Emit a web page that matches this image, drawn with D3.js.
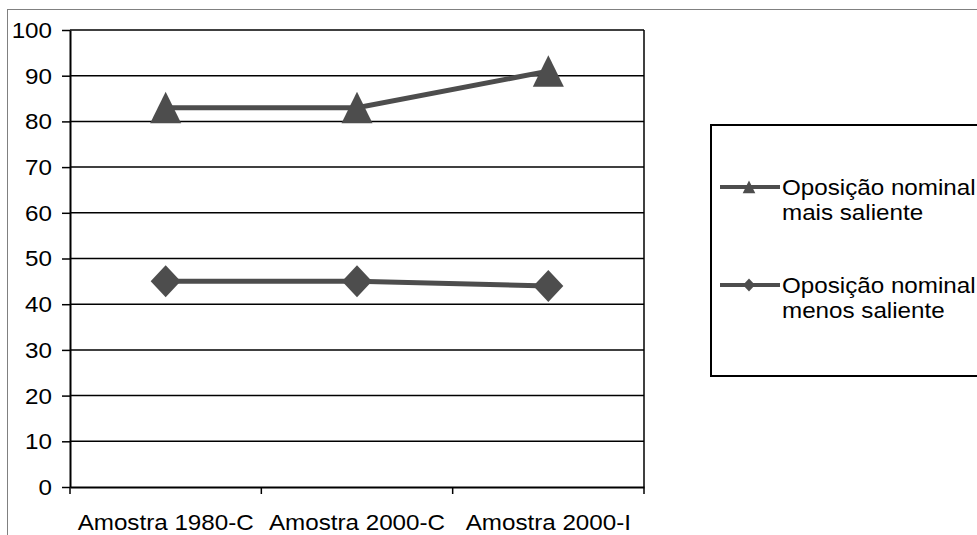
<!DOCTYPE html>
<html><head><meta charset="utf-8">
<script src="https://cdn.jsdelivr.net/npm/d3@7"></script>
<style>
body{margin:0;background:#fff}
svg{display:block}
text{font-family:"Liberation Sans",Arial,sans-serif;fill:#000}
</style></head>
<body><svg id="c" width="977" height="535"></svg>
<script>
const categories = ["Amostra 1980-C", "Amostra 2000-C", "Amostra 2000-I"];
const maisSaliente = [83, 83, 91];
const menosSaliente = [45, 45, 44];
const seriesLabels = [["Oposição nominal", "mais saliente"], ["Oposição nominal", "menos saliente"]];
const yTicks = [0, 10, 20, 30, 40, 50, 60, 70, 80, 90, 100];

const svg = d3.select("#c");
const FS = 22, SX = 1.1;
const col = "#4d4d4d";
const L = 70, R = 644, T = 30, B = 487;

const x = d3.scaleBand().domain(categories).range([L, R]).padding(0);
const y = d3.scaleLinear().domain([0, 100]).range([B, T]);
const cx = c => x(c) + x.bandwidth() / 2;

// outer frame
svg.append("rect").attr("x", 7.5).attr("y", 9.5).attr("width", 975).attr("height", 540)
  .attr("fill", "none").attr("stroke", "#808080").attr("stroke-width", 1);

// gridlines
svg.append("g").selectAll("line").data(yTicks.filter(d => d > 0)).join("line")
  .attr("x1", L).attr("x2", R).attr("y1", d => y(d)).attr("y2", d => y(d))
  .attr("stroke", "#000").attr("stroke-width", 1.5);
// right border of plot area
svg.append("line").attr("x1", R).attr("x2", R).attr("y1", T).attr("y2", B)
  .attr("stroke", "#000").attr("stroke-width", 1.5);

// left axis
const ya = svg.append("g").attr("transform", `translate(${L},0)`)
  .call(d3.axisLeft(y).tickValues(yTicks).tickSize(8).tickSizeOuter(0));
ya.select(".domain").attr("stroke", "#000").attr("stroke-width", 2);
ya.selectAll(".tick line").attr("stroke", "#000").attr("stroke-width", 1.5);
ya.selectAll(".tick text").attr("font-size", FS).attr("font-family", "Liberation Sans, Arial, sans-serif")
  .attr("x", -18 / SX).attr("dy", "0.34em").attr("transform", `scale(${SX},1)`).attr("fill", "#000");

// bottom axis
const xa = svg.append("g").attr("transform", `translate(0,${B})`)
  .call(d3.axisBottom(x).tickSize(0).tickSizeOuter(0));
xa.select(".domain").attr("stroke", "#000").attr("stroke-width", 2);
xa.selectAll(".tick text").attr("font-size", FS).attr("font-family", "Liberation Sans, Arial, sans-serif")
  .attr("y", 43).attr("dy", 0).attr("transform", `scale(${SX},1)`).attr("fill", "#000");
const bounds = categories.map(c => x(c)).concat([R]);
xa.selectAll("line.bt").data(bounds).join("line").attr("class", "bt")
  .attr("x1", d => d).attr("x2", d => d).attr("y1", 0).attr("y2", 7)
  .attr("stroke", "#000").attr("stroke-width", 1.5);

// markers
const tri = s => `M0,${-s}L${s * 0.97},${s * 0.975}L${-s * 0.97},${s * 0.975}Z`;
const dia = (w, h) => `M0,${-h}L${w},0L0,${h}L${-w},0Z`;

const line = d3.line().x(d => cx(d.c)).y(d => y(d.v));
const s1 = categories.map((c, i) => ({c, v: maisSaliente[i]}));
const s2 = categories.map((c, i) => ({c, v: menosSaliente[i]}));

svg.append("path").datum(s1).attr("d", line).attr("fill", "none").attr("stroke", col).attr("stroke-width", 5);
svg.append("path").datum(s2).attr("d", line).attr("fill", "none").attr("stroke", col).attr("stroke-width", 5);
svg.append("g").selectAll("path").data(s1).join("path")
  .attr("transform", d => `translate(${cx(d.c)},${y(d.v)})`).attr("d", tri(16)).attr("fill", col);
svg.append("g").selectAll("path").data(s2).join("path")
  .attr("transform", d => `translate(${cx(d.c)},${y(d.v)})`).attr("d", dia(15, 16)).attr("fill", col);

// legend
const lg = svg.append("g");
lg.append("rect").attr("x", 711).attr("y", 125).attr("width", 300).attr("height", 251)
  .attr("fill", "#fff").attr("stroke", "#000").attr("stroke-width", 2);
const entryY = [187, 285];
seriesLabels.forEach((lbl, i) => {
  const ey = entryY[i];
  lg.append("line").attr("x1", 720).attr("x2", 780).attr("y1", ey).attr("y2", ey)
    .attr("stroke", col).attr("stroke-width", 4);
  lg.append("path").attr("transform", `translate(749,${ey})`)
    .attr("d", i === 0 ? tri(6.5) : dia(6, 6.5)).attr("fill", col);
  lbl.forEach((t, k) => {
    lg.append("text").attr("transform", `translate(782,${ey + 8 + k * 25}) scale(${SX},1)`)
      .attr("font-size", FS).text(t);
  });
});
</script>
</body></html>
